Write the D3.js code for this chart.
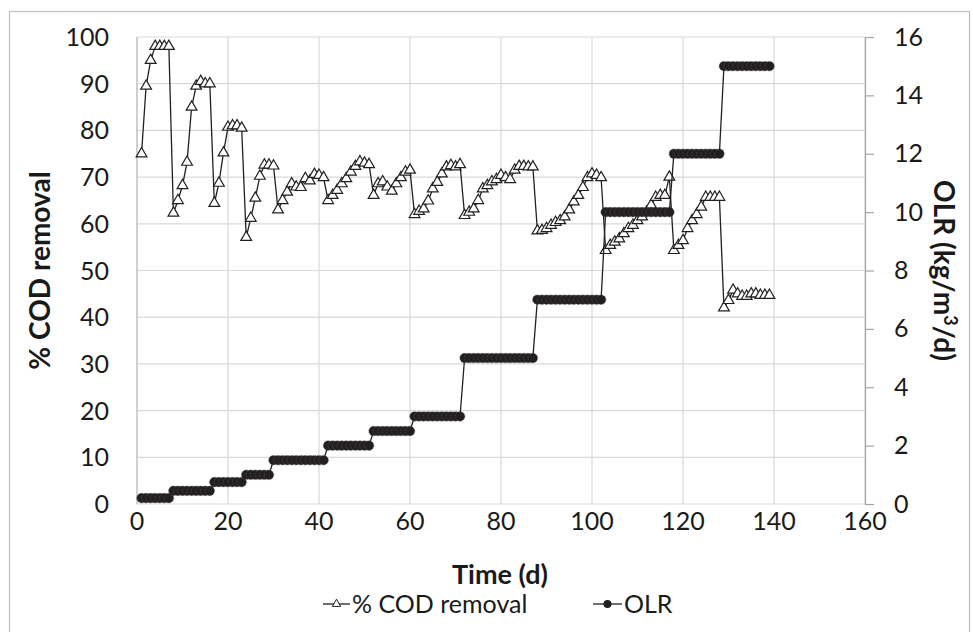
<!DOCTYPE html>
<html>
<head>
<meta charset="utf-8">
<script src="https://cdn.jsdelivr.net/npm/d3@7"></script>
<style>
  body { margin: 0; background: #fff; }
  svg { font-family: Lato, "Open Sans", sans-serif; }
</style>
</head>
<body>
<script>
// days of the run (one reading per day)
const days = d3.range(1, 140)

// % COD removal
const codRemoval = [
  75, 89.5, 95, 98, 98, 98, 98,
  62.3, 65, 68.2, 73.2, 85, 89.5, 90.5, 90, 90,
  64.4, 68.7, 75.2, 80.7, 81, 81, 80.5,
  57.1, 61.2, 65.5, 70.2, 72.6, 72.6, 72.4,
  63, 65, 66.8, 68.6, 67.9, 67.8, 69.7, 69.2, 70.6, 70.4, 69.9,
  65, 66.1, 67.2, 68.6, 69.7, 71.1, 72.3, 73.3, 73, 72.7,
  66.1, 68.6, 69, 67.9, 67, 68.6, 69.9, 71.1, 71.5,
  62, 62.7, 63.2, 64.9, 67.5, 68.9, 70.7, 72.2, 72.5, 72.2, 72.7,
  61.8, 62.5, 63.2, 65, 67.5, 68.2, 69, 69.5, 70.4, 69.9, 69.5, 71.5, 72.3, 72.3, 72.2, 72.2,
  58.5, 58.6, 59, 59.7, 60.3, 60.7, 61.5, 63, 64.7, 66.1, 67.8, 69.9, 70.7, 70.4, 69.9,
  54.3, 55.4, 56.1, 56.8, 57.9, 59, 59.7, 60.7, 61.5, 62.5, 64, 65.7, 66.1, 66.1, 70,
  54.3, 55.4, 56.4, 59, 60.7, 62, 63.6, 65.7, 65.7, 65.7, 65.7,
  42, 43.6, 45.8, 45, 44.5, 44.5, 45, 45, 44.7, 44.7, 44.7
]

// OLR steps (kg/m3/d): level and how many days it was held
const olrLevels = [0.2, 0.45, 0.75, 1, 1.5, 2, 2.5, 3, 5, 7, 10, 12, 15]
const olrDays   = [7,   9,    7,    6, 12,  10, 9,   11, 16, 15, 15, 11, 11]
const olr = olrLevels.flatMap((v, i) => d3.range(olrDays[i]).map(() => v))

const xTicks = [0, 20, 40, 60, 80, 100, 120, 140, 160]
const leftTicks = d3.range(0, 101, 10)
const rightTicks = d3.range(0, 17, 2)

const W = 973, H = 632
// plot box (px)
const pL = 137, pR = 865, pT = 37, pB = 504
const ink = '#231f20'

const svg = d3.select('body').append('svg')
  .attr('width', W).attr('height', H)

// chart frame
svg.append('rect')
  .attr('x', 9.5).attr('y', 11.5)
  .attr('width', 960).attr('height', 640)
  .attr('fill', 'none').attr('stroke', '#bfbfbf').attr('stroke-width', 1.2)

const x = d3.scaleLinear().domain([0, 160]).range([pL, pR])
const yL = d3.scaleLinear().domain([0, 100]).range([pB, pT])
const yR = d3.scaleLinear().domain([0, 16]).range([pB, pT])

// grid
svg.append('g').selectAll('line').data(leftTicks).enter().append('line')
  .attr('x1', pL).attr('x2', pR)
  .attr('y1', d => yL(d)).attr('y2', d => yL(d))
  .attr('stroke', '#d9d9d9').attr('stroke-width', 1.2)
svg.append('g').selectAll('line').data(xTicks).enter().append('line')
  .attr('x1', d => x(d)).attr('x2', d => x(d))
  .attr('y1', pT).attr('y2', pB)
  .attr('stroke', '#d9d9d9').attr('stroke-width', 1.2)

// axis lines
svg.append('line').attr('x1', pL).attr('x2', pL).attr('y1', pT).attr('y2', pB)
  .attr('stroke', '#bfbfbf').attr('stroke-width', 1.2)
const axR = svg.append('g').attr('transform', `translate(${pR},0)`)
  .call(d3.axisRight(yR).tickValues(rightTicks).tickSize(9).tickPadding(20))
axR.select('.domain').attr('stroke', '#a6a6a6').attr('stroke-width', 1.2)
axR.selectAll('.tick line').attr('stroke', '#a6a6a6').attr('stroke-width', 1.2)
axR.selectAll('text').attr('font-size', 25).attr('fill', '#1a1a1a')
  .attr('font-family', 'Lato, sans-serif')

// left tick labels
svg.append('g').selectAll('text').data(leftTicks).enter().append('text')
  .attr('x', 109).attr('y', d => yL(d) + 9)
  .attr('text-anchor', 'end').attr('font-size', 25).attr('fill', '#1a1a1a')
  .text(d => d)

// bottom tick labels
svg.append('g').selectAll('text').data(xTicks).enter().append('text')
  .attr('x', d => x(d)).attr('y', 530)
  .attr('text-anchor', 'middle').attr('font-size', 25).attr('fill', '#1a1a1a')
  .text(d => d)

// titles
svg.append('text')
  .attr('transform', `translate(50,${(pT + pB) / 2}) rotate(-90)`)
  .attr('text-anchor', 'middle').attr('font-size', 28).attr('font-weight', 'bold')
  .attr('fill', '#1a1a1a').text('% COD removal')
svg.append('text')
  .attr('transform', `translate(934,${(pT + pB) / 2}) rotate(90)`)
  .attr('text-anchor', 'middle').attr('font-size', 28).attr('font-weight', 'bold')
  .attr('fill', '#1a1a1a')
  .call(t => {
    t.append('tspan').text('OLR (kg/m')
    t.append('tspan').attr('font-size', 18).attr('dy', -10).text('3')
    t.append('tspan').attr('dy', 10).text('/d)')
  })
svg.append('text')
  .attr('x', 500).attr('y', 584)
  .attr('text-anchor', 'middle').attr('font-size', 27).attr('font-weight', 'bold')
  .attr('fill', '#1a1a1a').text('Time (d)')

// COD series
const codPts = days.map((d, i) => [d, codRemoval[i]])
svg.append('path').datum(codPts)
  .attr('fill', 'none').attr('stroke', ink).attr('stroke-width', 1.3)
  .attr('d', d3.line().x(d => x(d[0])).y(d => yL(d[1])))
const tri = d3.symbol().type(d3.symbolTriangle).size(50)
svg.append('g').selectAll('path').data(codPts).enter().append('path')
  .attr('d', tri)
  .attr('transform', d => `translate(${x(d[0])},${yL(d[1])})`)
  .attr('fill', '#fff').attr('stroke', ink).attr('stroke-width', 1.2)

// OLR series
const olrPts = days.map((d, i) => [d, olr[i]])
svg.append('path').datum(olrPts)
  .attr('fill', 'none').attr('stroke', ink).attr('stroke-width', 1.3)
  .attr('d', d3.line().x(d => x(d[0])).y(d => yR(d[1])))
svg.append('g').selectAll('circle').data(olrPts).enter().append('circle')
  .attr('cx', d => x(d[0])).attr('cy', d => yR(d[1])).attr('r', 4.8)
  .attr('fill', ink).attr('stroke', '#555').attr('stroke-width', 0.6)
  .attr('stroke-dasharray', '1.5,1')

// legend
const lg = svg.append('g').attr('transform', 'translate(0,604)')
lg.append('line').attr('x1', 323).attr('x2', 350).attr('stroke', ink).attr('stroke-width', 1.3)
lg.append('path').attr('d', d3.symbol().type(d3.symbolTriangle).size(30))
  .attr('transform', 'translate(336.5,0)')
  .attr('fill', '#fff').attr('stroke', ink).attr('stroke-width', 1)
lg.append('text').attr('x', 352).attr('y', 9).attr('font-size', 25).attr('fill', '#1a1a1a')
  .text('% COD removal')
lg.append('line').attr('x1', 593).attr('x2', 622).attr('stroke', ink).attr('stroke-width', 1.3)
lg.append('circle').attr('cx', 607.5).attr('cy', 0).attr('r', 4).attr('fill', ink)
lg.append('text').attr('x', 624).attr('y', 9).attr('font-size', 25).attr('fill', '#1a1a1a')
  .text('OLR')
</script>
</body>
</html>
